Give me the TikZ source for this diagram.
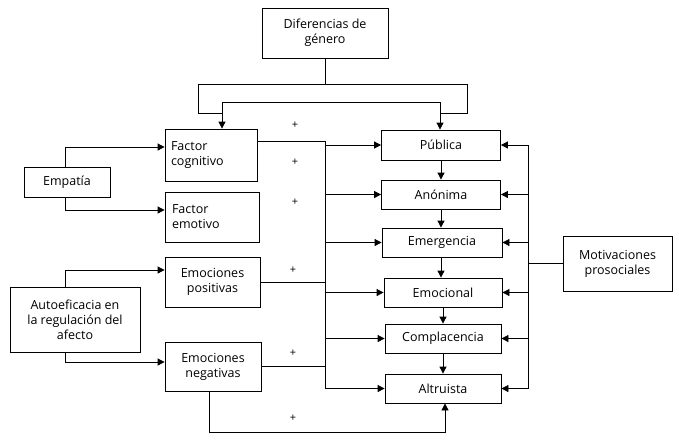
\documentclass[tikz,border=0pt]{standalone}
\usepackage{fontspec}
\setmainfont{Open Sans}
\usetikzlibrary{arrows.meta}
\begin{document}
\begin{tikzpicture}[x=1pt,y=-1pt,
  box/.style={draw,thick,align=center,inner sep=0pt,font=\fontsize{12.5}{15}\selectfont},
  ln/.style={thick},
  ar/.style={thick,-{Triangle[length=7pt,width=7pt]}},
  pl/.style={font=\fontsize{11}{12}\selectfont}]
\useasboundingbox (0,0) rectangle (679,440);
\node[box,minimum width=126,minimum height=50] (dg) at (325,33) {Diferencias de\\género};
\node[box,minimum width=92,minimum height=52,align=left,text width=80] (fc) at (211,155) {Factor\\cognitivo};
\node[box,minimum width=94,minimum height=50,align=left,text width=80] (fe) at (212,217) {Factor\\emotivo};
\node[box,minimum width=95,minimum height=50] (ep) at (212.5,282) {Emociones\\positivas};
\node[box,minimum width=96,minimum height=49] (en) at (213,366.5) {Emociones\\negativas};
\node[box,minimum width=86,minimum height=30] (em) at (67,182) {Empatía};
\node[box,minimum width=130,minimum height=65] (au) at (75,319.5) {Autoeficacia en\\la regulación del\\afecto};
\node[box,minimum width=119,minimum height=30] (p1) at (441,145) {Pública};
\node[box,minimum width=119,minimum height=29] (p2) at (441,194.5) {Anónima};
\node[box,minimum width=120,minimum height=29] (p3) at (442,242.5) {Emergencia};
\node[box,minimum width=118,minimum height=29] (p4) at (443,292.5) {Emocional};
\node[box,minimum width=116,minimum height=29] (p5) at (443,338.5) {Complacencia};
\node[box,minimum width=116,minimum height=29] (p6) at (443,388.5) {Altruista};
\node[box,minimum width=109,minimum height=55] (mp) at (617.5,263.5) {Motivaciones\\prosociales};
% top
\coordinate (t0) at (325,84);
\draw[ln] (dg.south) -- (t0);
\draw[ln] (198,113) -- (198,84) -- (467,84) -- (467,113) -- (440,113);
\draw[ln] (198,113) -- (222,113);
\draw[ln] (222,102) -- (440,102);
\draw[ar] (222,102) -- (fc.north -| 222,0);
\draw[ar] (440,102) -- (p1.north -| 440,0);
% bus
\coordinate (bt) at (325,141);
\coordinate (bb) at (325,388);
\draw[ln] (fc.east |- 0,141) -- (bt) -- (bb);
\draw[ln] (ep.east) -- (ep.east -| bt);
\draw[ln] (en.east) -- (en.east -| bt);
\foreach \n in {p1,p2,p3,p4,p5,p6} \draw[ar] (\n.west -| bt) -- (\n.west);
% chain
\draw[ar] (p1.south -| 441,0) -- (p2.north -| 441,0);
\draw[ar] (p2.south -| 441,0) -- (p3.north -| 441,0);
\draw[ar] (p3.south -| 441,0) -- (p4.north -| 441,0);
\draw[ar] (p4.south -| 443,0) -- (p5.north -| 443,0);
\draw[ar] (p5.south -| 443,0) -- (p6.north -| 443,0);
% motivaciones
\coordinate (mb) at (528,145);
\draw[ln] (mp.west) -- (mp.west -| mb);
\draw[ln] (528,145) -- (528,389);
\foreach \n in {p1,p2,p3,p4,p5,p6} \draw[ar] (\n.east -| mb) -- (\n.east);
% left
\draw[ar] (em.north -| 65,0) -- (65,147) -- (fc.west |- 0,147);
\draw[ar] (em.south -| 65,0) -- (65,210) -- (fe.west |- 0,210);
\draw[ar] (au.north -| 65,0) -- (65,270) -- (ep.west |- 0,270);
\draw[ar] (au.south -| 65,0) -- (65,362) -- (en.west |- 0,362);
% bottom
\draw[ar] (en.south -| 209,0) -- (209,432) -- (445,432) -- (p6.south -| 445,0);
% plus
\foreach \y/\x in {125/295,162/295,202/295,270/293,353/293,418/293} \node[pl] at (\x,\y) {+};
\end{tikzpicture}
\end{document}
